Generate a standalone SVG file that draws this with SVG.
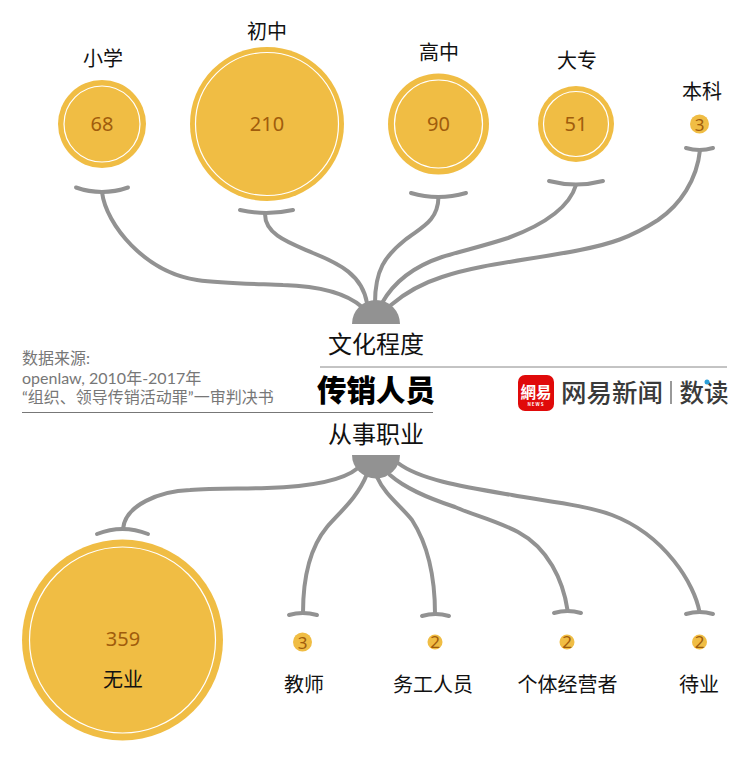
<svg xmlns="http://www.w3.org/2000/svg" width="750" height="760" viewBox="0 0 750 760">
<style>
text{font-family:"Noto Sans CJK SC","Noto Sans",sans-serif;text-anchor:middle}
.lab{font-size:20px;fill:#111}
.num{font-size:20px;fill:#a05c0c;font-family:"Noto Sans","Noto Sans CJK SC",sans-serif}
.numS{font-size:17px;fill:#a05c0c;font-family:"Noto Sans","Noto Sans CJK SC",sans-serif}
.big{fill:#f0bd44}
.ring{fill:none;stroke:#fff;stroke-width:1.2}
.c{fill:none;stroke:#929292;stroke-width:4;stroke-linecap:round}
.hub{fill:#929292}
.src{font-size:16px;fill:#777;text-anchor:start;font-family:"Lato","Noto Sans CJK SC",sans-serif}
</style>
<g id="connectors">
<path class="c" d="M76 187.500Q102 196.500 128 187.500"/>
<path class="c" d="M102 192C106 225 145 272 197 280C225 284 265 284 283 285C315 286 345 292 362 307"/>
<path class="c" d="M240 210Q266 216 293 210"/>
<path class="c" d="M265 214C265 235 290 243 313 253C340 264 362 275 367 303"/>
<path class="c" d="M411 193Q438 201 466 193"/>
<path class="c" d="M438.500 197C438 222 420 228 405 240C385 256 375 270 375 303"/>
<path class="c" d="M549 181Q576 188 603 181"/>
<path class="c" d="M576 185C568 212 535 228 508 238C480 247 465 250 442 257C415 266 395 280 382 303"/>
<path class="c" d="M686 148Q699.500 152 713 148"/>
<path class="c" d="M700 150C697 180 680 205 658 220C630 238 610 244 580 250C530 260 480 264 442 277C420 284 405 293 391 305"/>
<path class="c" d="M97 534Q122.500 524 148 534"/>
<path class="c" d="M123 529C125 505 160 491 190 490C215 488 245 489 267 488C300 487 340 483 358 468"/>
<path class="c" d="M289 615Q302.500 611 317 615"/>
<path class="c" d="M303 613C303 585 308 550 327 527C340 512 358 497 367 474"/>
<path class="c" d="M422 616Q435.500 612 449 616"/>
<path class="c" d="M435 614C435 585 430 548 412 520C400 505 385 495 377 477"/>
<path class="c" d="M554 613Q567.500 609 581 613"/>
<path class="c" d="M567.500 610C563 580 548 548 518 532C495 520 470 514 455 507C425 497 405 488 390 475"/>
<path class="c" d="M686 614Q699.500 610 713 614"/>
<path class="c" d="M699.500 612C695 585 665 535 612 515C585 505 545 501 512 495C465 487 420 480 398 463"/>
<path class="hub" d="M352 324A24 24 0 0 1 400 324Z"/>
<path class="hub" d="M352 455H400A24 23.500 0 0 1 352 455Z"/>
</g>
<g id="n-xiaoxue"><text class="lab" x="103" y="66">小学</text><circle class="big" cx="102" cy="124" r="44"/><circle class="ring" cx="102" cy="124" r="38"/><text class="num" x="102" y="131">68</text></g>
<g id="n-chuzhong"><text class="lab" x="267" y="39">初中</text><circle class="big" cx="267" cy="124" r="77"/><circle class="ring" cx="267" cy="124" r="71.500"/><text class="num" x="267" y="131">210</text></g>
<g id="n-gaozhong"><text class="lab" x="439" y="60">高中</text><circle class="big" cx="438.500" cy="124" r="50.500"/><circle class="ring" cx="438.500" cy="124" r="44"/><text class="num" x="438.500" y="131">90</text></g>
<g id="n-dazhuan"><text class="lab" x="577" y="68">大专</text><circle class="big" cx="576" cy="124" r="38"/><circle class="ring" cx="576" cy="124" r="32.500"/><text class="num" x="576" y="131">51</text></g>
<g id="n-benke"><text class="lab" x="702" y="99">本科</text><circle class="big" cx="699.500" cy="124" r="9.500"/><text class="numS" x="699.500" y="131">3</text></g>
<g id="n-center"><text x="376" y="353" font-size="24" fill="#111">文化程度</text><text x="376" y="401" font-size="29.500" font-weight="900" fill="#000">传销人员</text><text x="376" y="443" font-size="24" fill="#111">从事职业</text></g>
<g id="rules"><path d="M320 367H727" stroke="#888" stroke-width="1" fill="none"/><path d="M22 412.500H433" stroke="#777" stroke-width="1" fill="none"/></g>
<g id="source"><text class="src" x="22" y="364">数据来源:</text><text class="src" x="22" y="383.500">openlaw, 2010年-2017年</text><text class="src" x="22" y="403">“组织、领导传销活动罪”一审判决书</text></g>
<g id="logo"><rect x="518" y="375" width="36" height="36" rx="7" fill="#e00a0a"/><text x="536" y="398" font-size="15.500" font-weight="700" fill="#fff">網易</text><text x="536" y="406" font-size="4.500" font-weight="700" letter-spacing="1" fill="#fff" font-family="Liberation Sans">NEWS</text><text x="612" y="402" font-size="25.500" font-weight="500" fill="#3a3a3a">网易新闻</text><path d="M671 381V404" stroke="#555" stroke-width="1.200"/><text x="704" y="402" font-size="24.500" font-weight="500" fill="#3a3a3a">数读</text><circle cx="707" cy="382" r="2.500" fill="#2b9fd9"/></g>
<g id="n-wuye"><circle class="big" cx="122.500" cy="640" r="100.500"/><circle class="ring" cx="122.500" cy="640" r="93"/><text class="num" x="123" y="646">359</text><text class="lab" x="123" y="687">无业</text></g>
<g id="n-jiaoshi"><circle class="big" cx="302.500" cy="642" r="9.500"/><text class="numS" x="302.500" y="649">3</text><text class="lab" x="304" y="692">教师</text></g>
<g id="n-wugong"><circle class="big" cx="435" cy="642" r="7.500"/><text class="numS" x="435" y="648">2</text><text class="lab" x="433" y="692">务工人员</text></g>
<g id="n-geti"><circle class="big" cx="567" cy="642" r="7.500"/><text class="numS" x="567" y="648">2</text><text class="lab" x="567.500" y="692">个体经营者</text></g>
<g id="n-daiye"><circle class="big" cx="699.500" cy="642" r="7.500"/><text class="numS" x="699.500" y="648">2</text><text class="lab" x="699" y="692">待业</text></g>
</svg>
